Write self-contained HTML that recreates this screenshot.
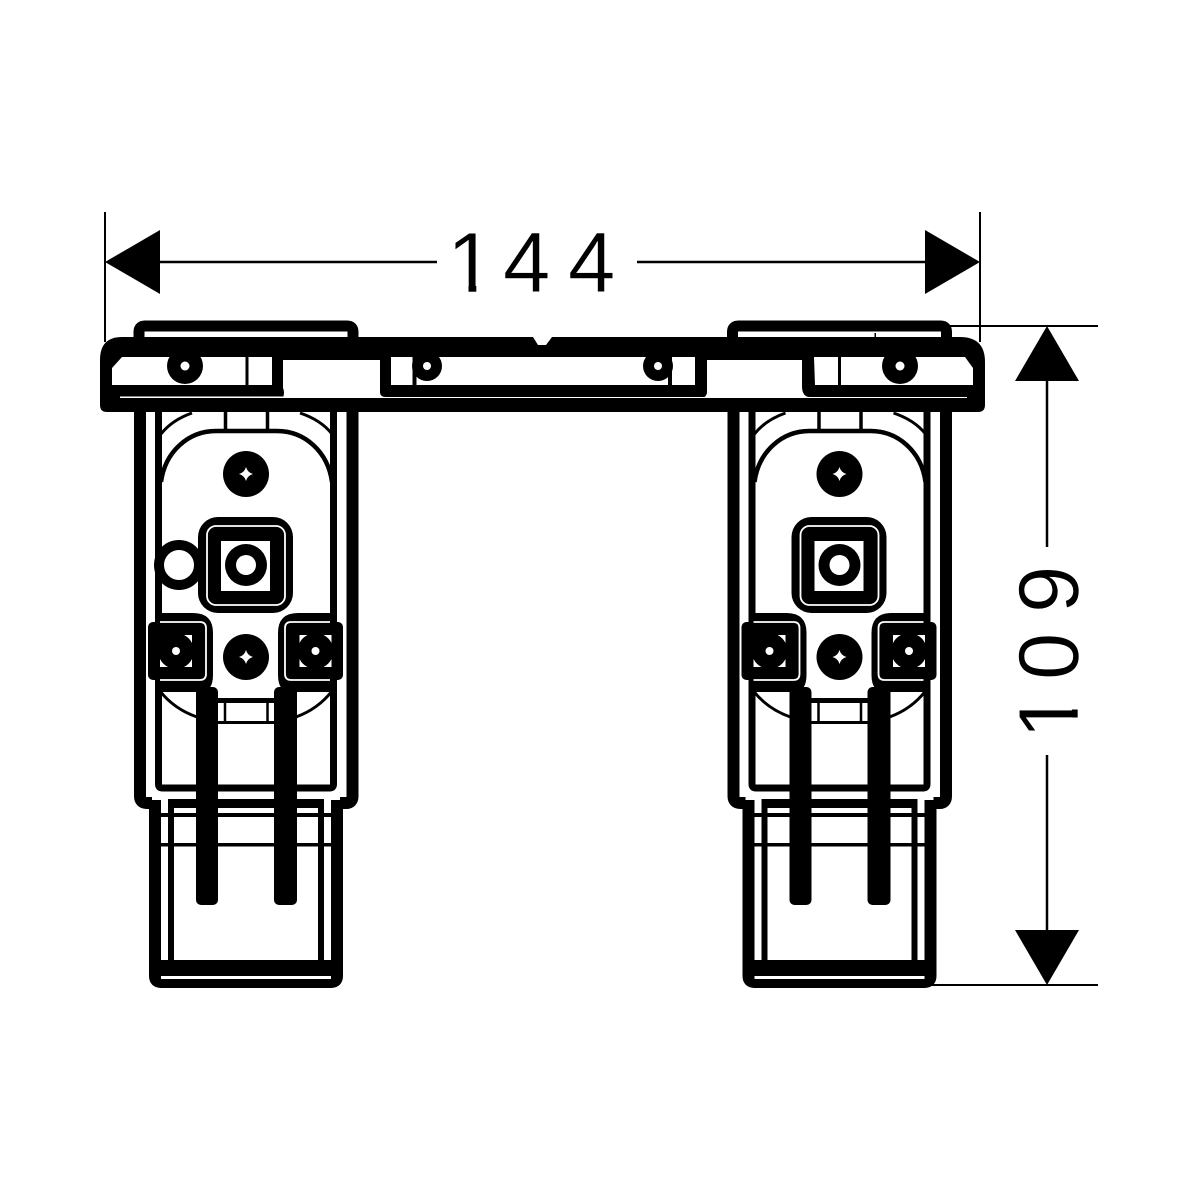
<!DOCTYPE html>
<html>
<head>
<meta charset="utf-8">
<style>
html,body{margin:0;padding:0;background:#fff;}
svg{display:block;}
text{font-family:"Liberation Sans",sans-serif;font-size:85px;fill:#000;stroke:#fff;stroke-width:0.6px;}
</style>
</head>
<body>
<svg width="1200" height="1200" viewBox="0 0 1200 1200" xmlns="http://www.w3.org/2000/svg">
<rect width="1200" height="1200" fill="#fff"/>
<defs>
<g id="star"><path d="M0 -7 Q1.500 -1.500 7 0 Q1.500 1.500 0 7 Q-1.500 1.500 -7 0 Q-1.500 -1.500 0 -7Z" fill="#fff"/></g>
<path id="tr" d="M8 -16 H16 V-8 A18 18 0 0 0 8 -16Z" fill="#fff"/>
<path id="br" d="M8 16 H16 V8 A18 18 0 0 1 8 16Z" fill="#fff"/>
<path id="bl" d="M-8 16 H-16 V8 A18 18 0 0 0 -8 16Z" fill="#fff"/>
<path id="tl" d="M-8 -16 H-16 V-8 A18 18 0 0 1 -8 -16Z" fill="#fff"/>
<g id="unit">
  <!-- top cap -->
  <path d="M139 340 V332 Q139 326 145 326 H347 Q353 326 353 332 V340" fill="none" stroke="#000" stroke-width="11"/>
  <!-- lower box -->
  <path d="M155 800 V976 Q155 982 161 982 H331 Q337 982 337 976 V800" fill="#fff" stroke="#000" stroke-width="12"/>
  <rect x="161" y="813" width="170" height="4" fill="#000"/>
  <rect x="161" y="843" width="170" height="3.500" fill="#000"/>
  <rect x="161" y="960" width="170" height="16" fill="#000"/>
  <rect x="161" y="976" width="170" height="3" fill="#fff"/>
  <path d="M171 960 V806 Q171 803 175 803 H317 Q321 803 321 806 V960" fill="none" stroke="#000" stroke-width="6"/>
  <path d="M168 799 H324 V808 H168Z" fill="#000"/>
  <!-- outer wall -->
  <path d="M140 410 V796 Q140 803 147 803 H152 M352.500 410 V796 Q352.500 803 346 803 H340" fill="none" stroke="#000" stroke-width="12"/>
  <!-- inner wall -->
  <path d="M158.500 410 V784 Q158.500 788 162 788 H330 Q333.500 788 333.500 784 V410" fill="none" stroke="#000" stroke-width="7"/>
  <!-- arches -->
  <path d="M161 434 Q172 420 192 413 M332 434 Q321 420 300 413" fill="none" stroke="#000" stroke-width="3"/>
  <path d="M161 482 C165 452 188 431 216 431 H277 C305 431 328 452 332 482" fill="none" stroke="#000" stroke-width="4.500"/>
  <path d="M225.500 411 V431 M267.500 411 V431" fill="none" stroke="#000" stroke-width="3.500"/>
  <!-- upper screw -->
  <circle cx="246" cy="474" r="23" fill="#000"/>
  <use href="#star" x="246" y="474"/>
  <!-- central square -->
  <rect x="198" y="517" width="95" height="96" rx="20" fill="#000"/>
  <rect x="207" y="526" width="78" height="79" rx="9" fill="none" stroke="#fff" stroke-width="1.800"/>
  <rect x="221" y="541" width="49" height="50" fill="#fff"/>
  <circle cx="246" cy="565" r="21" fill="#000"/>
  <circle cx="246" cy="565" r="10" fill="#fff"/>
  <!-- left clamp -->
  <path d="M157 613 H193 Q213 613 213 633 V675 Q213 692 200 692 H157Z" fill="#000"/>
  <rect x="148" y="622" width="55" height="58" rx="5" fill="#000"/>
  <path d="M160 622 H200 Q206 622 206 628 V674 Q206 680 200 680 H160" fill="none" stroke="#fff" stroke-width="1.800"/>
  <use href="#tr" x="176" y="651"/>
  <use href="#br" x="176" y="651"/>
  <use href="#bl" x="176" y="651"/>
  <circle cx="176" cy="651" r="4" fill="#fff"/>
  <!-- right clamp -->
  <path d="M334 613 H298 Q278 613 278 633 V675 Q278 692 291 692 H334Z" fill="#000"/>
  <rect x="287" y="622" width="56" height="58" rx="5" fill="#000"/>
  <path d="M330 622 H291 Q285 622 285 628 V674 Q285 680 291 680 H330" fill="none" stroke="#fff" stroke-width="1.800"/>
  <use href="#tr" x="315.500" y="651"/>
  <use href="#br" x="315.500" y="651"/>
  <use href="#bl" x="315.500" y="651"/>
  <use href="#tl" x="315.500" y="651"/>
  <circle cx="315.500" cy="651" r="4" fill="#fff"/>
  <!-- lower screw -->
  <circle cx="246" cy="657" r="23" fill="#000"/>
  <use href="#star" x="246" y="657"/>
  <!-- lower arches and connector -->
  <path d="M160 691 Q174 709 197 717 M332 691 Q318 709 296 717" fill="none" stroke="#000" stroke-width="3"/>
  <rect x="216" y="698" width="60" height="5" fill="#000"/>
  <rect x="216" y="721" width="60" height="3" fill="#000"/>
  <path d="M225 703 V721 M267.500 703 V721" fill="none" stroke="#000" stroke-width="2.500"/>
  <!-- rods -->
  <rect x="196" y="687" width="22" height="218" rx="5" fill="#000"/>
  <rect x="274" y="687" width="23" height="218" rx="5" fill="#000"/>
</g>
</defs>

<!-- units -->
<use href="#unit"/>
<use href="#unit" x="593.500"/>
<!-- side circle on left unit -->
<circle cx="179" cy="565" r="20" fill="#fff" stroke="#000" stroke-width="10"/>

<!-- main bar -->
<path d="M100 405 V360 Q100 337 122 337 H533 L538 345 H546 L552 337 H960 Q985 337 985 362 V405 Q985 412 978 412 H107 Q100 412 100 405Z" fill="#000"/>
<!-- left pocket -->
<path d="M112 368 L122 357 H272 V385 H112Z" fill="#fff"/>
<rect x="245.500" y="357" width="3" height="28" fill="#000"/>
<rect x="120" y="396.500" width="165" height="1.500" fill="#fff"/>
<path d="M283 360 H380 V386 Q380 397 390 397 H704 Q707 397 707 386 V360 H802 V386 Q802 397 810 397 H967 V398 H283 Q285 392 283 388Z" fill="#fff"/>
<!-- centre pocket -->
<rect x="391" y="357" width="304" height="28" fill="#fff"/>
<path d="M380 358 H391 V385 H695 V358 H707 V392 Q707 397 701 397 H386 Q380 397 380 392Z" fill="#000"/>
<rect x="412.500" y="357" width="4" height="28" fill="#000"/>
<rect x="668" y="357" width="4" height="28" fill="#000"/>
<!-- right pocket -->
<path d="M814 357 H965 L973 368 V385 H815Z" fill="#fff"/>
<rect x="838" y="357" width="3" height="28" fill="#000"/>
<!-- bar bolts -->
<circle cx="185" cy="366" r="18" fill="#000"/><circle cx="185" cy="366" r="4.500" fill="#fff"/>
<circle cx="900" cy="366" r="18" fill="#000"/><circle cx="900" cy="366" r="4.500" fill="#fff"/>
<circle cx="427" cy="366" r="15" fill="#000"/><circle cx="427" cy="366" r="4" fill="#fff"/>
<circle cx="658" cy="366" r="15" fill="#000"/><circle cx="658" cy="366" r="4" fill="#fff"/>
<rect x="874.500" y="333" width="1.500" height="4" fill="#000"/>

<!-- dimension 144 -->
<path d="M105 212 V342 M980 212 V342" stroke="#000" stroke-width="2" fill="none"/>
<path d="M160 262 H437 M637 262 H925" stroke="#000" stroke-width="2.500" fill="none"/>
<path d="M105 262 L160 230 V294Z M980 262 L925 230 V294Z" fill="#000"/>
<text x="447 503 568" y="292">144</text>
<!-- mask the foot of the 1 -->
<rect x="444" y="283" width="24.500" height="11" fill="#fff"/>
<rect x="476.300" y="283" width="20" height="11" fill="#fff"/>

<!-- dimension 109 -->
<path d="M950 326 H1098 M930 985 H1098" stroke="#000" stroke-width="2" fill="none"/>
<path d="M1047 380 V547 M1047 755 V930" stroke="#000" stroke-width="2.500" fill="none"/>
<path d="M1047 326 L1015 381 H1079Z M1047 985 L1015 930 H1079Z" fill="#000"/>
<text transform="translate(1078,0) rotate(-90)" x="-739 -680 -613" y="0">109</text>
<!-- mask the foot of the rotated 1 -->
<rect x="1069" y="688" width="11" height="21.500" fill="#fff"/>
<rect x="1069" y="717.500" width="11" height="22" fill="#fff"/>
</svg>
</body>
</html>
